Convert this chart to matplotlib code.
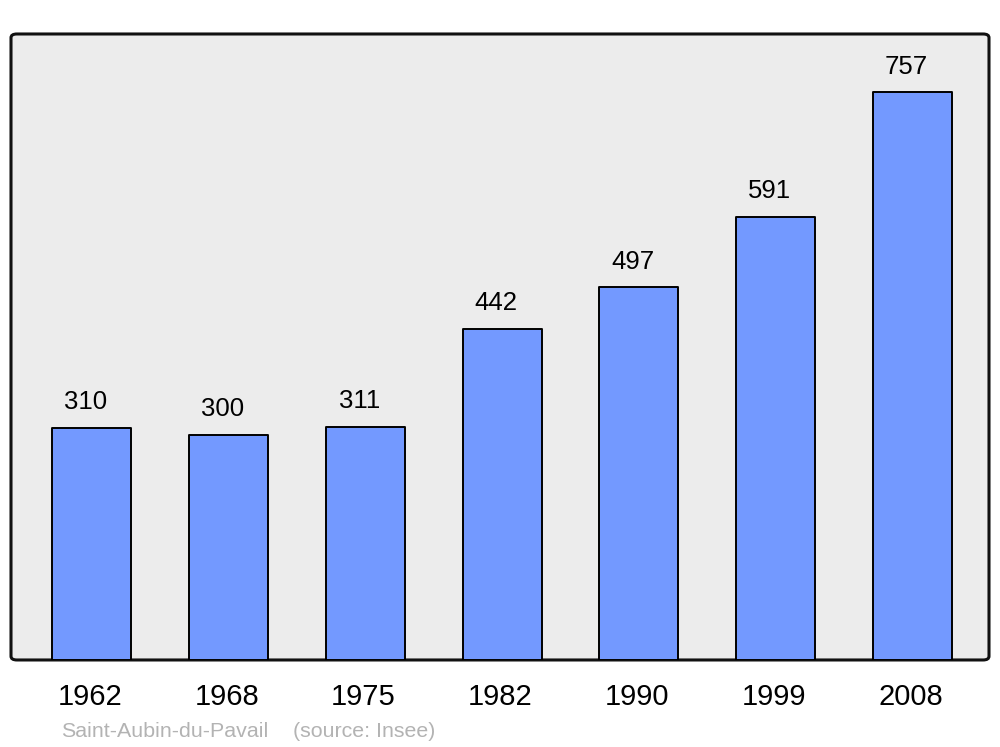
import matplotlib
matplotlib.use("Agg")
import matplotlib.pyplot as plt
import matplotlib.transforms as mtransforms
from matplotlib.patches import FancyBboxPatch

plt.rcParams['font.family'] = ['Liberation Sans', 'DejaVu Sans']

# population data
years = ['1962', '1968', '1975', '1982', '1990', '1999', '2008']
population = [310, 300, 311, 442, 497, 591, 757]
commune = 'Saint-Aubin-du-Pavail'
source = '(source: Insee)'

fig = plt.figure(figsize=(10, 7.47), dpi=100)
ax = fig.add_axes([0.011, 0.1165, 0.978, 0.838])
ax.set_facecolor('none')

# rounded frame instead of the spines
frame = FancyBboxPatch((0, 0), 1, 1, boxstyle='round,pad=0,rounding_size=0.006',
                       transform=ax.transAxes, facecolor='#ececec',
                       edgecolor='#111111', linewidth=2.2, zorder=0, clip_on=False)
ax.add_patch(frame)
for s in ax.spines.values():
    s.set_visible(False)

x = list(range(len(years)))
bars = ax.bar(x, population, width=0.578, color='#7399ff', edgecolor='black',
              linewidth=1.4, zorder=2)
for b in bars:
    b.set_joinstyle('round')

# labels sit a little left of the bar centre in the original
shift = mtransforms.offset_copy(ax.transData, fig=fig, x=-6, y=0, units='dots')
for xi, v in zip(x, population):
    ax.text(xi, v + 25, str(v), ha='center', va='baseline', fontsize=18.5,
            zorder=3, transform=shift)

ax.set_xlim(-0.592, 6.56)
ax.set_ylim(0, 835)
ax.set_xticks([])
ax.set_yticks([])

# year labels below the frame
for xi, yr in zip(x, years):
    px = (ax.transData.transform((xi, 0))[0] - 2) / fig.bbox.width
    fig.text(px, 1 - 705 / 747, yr, ha='center', va='baseline', fontsize=21)

fig.text(61 / 1000, 1 - 737 / 747, commune, ha='left', va='baseline',
         fontsize=15.4, color='#b3b3b3')
fig.text(293 / 1000, 1 - 737 / 747, source, ha='left', va='baseline',
         fontsize=15.4, color='#b3b3b3')

fig.savefig('out.png', dpi=100, facecolor='white')
